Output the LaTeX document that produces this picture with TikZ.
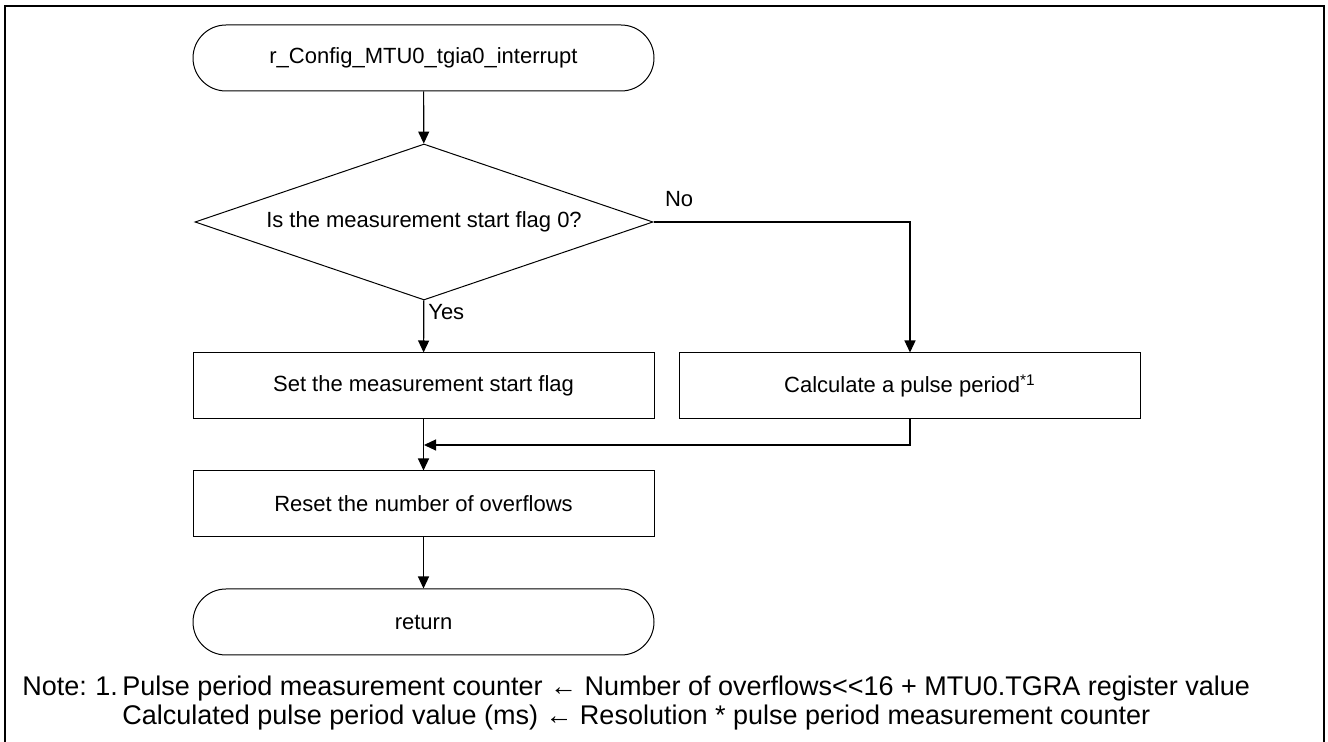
\documentclass[tikz,border=0pt]{standalone}
\usepackage{fontspec}
\setmainfont{Liberation Sans}
\usetikzlibrary{shapes.geometric,arrows.meta}

\begin{document}
\begin{tikzpicture}[x=0.5pt,y=-0.5pt,
    font=\fontsize{11}{13}\selectfont,
    >={Triangle[length=6pt,width=5.5pt]},
    proc/.style={draw,rectangle,line width=0.5pt,minimum width=230.5pt,minimum height=33pt,inner sep=0pt},
    term/.style={proc,rounded corners=16.5pt},
    flow/.style={line width=0.6pt,->},
    notetext/.style={anchor=base west,inner sep=0pt,font=\fontsize{13.5}{16}\selectfont}]
    \useasboundingbox (0,0) rectangle (1328,742);
    % outer frame, open at the bottom
    \draw[line width=1.2pt] (5,742) -- (5,6) -- (1324,6) -- (1324,742);

    \node[term] (start) at (423.5,58) {r\_Config\_MTU0\_tgia0\_interrupt};
    \node[draw,diamond,line width=0.5pt,aspect=2.9,minimum width=229pt,minimum height=78pt,inner sep=0pt] (chk) at (424,222) {Is the measurement start flag 0?};
    \node[proc] (setf) at (423.5,386) {Set the measurement start flag};
    \node[proc] (calc) at (910,386) {Calculate a pulse period\textsuperscript{*1}};
    \node[proc] (reset) at (423.5,504) {Reset the number of overflows};
    \node[term] (ret) at (423.5,622) {return};
    \coordinate (mrg) at (424,445);

    \draw[flow] (start) -- (chk);
    \draw[flow] (chk) -- node[pos=0.22,right,inner sep=2pt] (yes) {Yes} (setf);
    \draw[flow] (chk.east) -| node[pos=0.05,above=4pt] (no) {No} (calc.north);
    \draw[flow] (calc.south) |- (mrg);
    \draw[flow] (setf) -- (reset);
    \draw[flow] (reset) -- (ret);

    % note below the chart
    \node[notetext] (note) at (22,696) {Note:};
    \node[notetext] (num) at (95,696) {1.};
    \node[notetext] (nline1) at (122,696) {Pulse period measurement counter ← Number of overflows<\kern0pt<16 + MTU0.TGRA register value};
    \node[notetext] (nline2) at (122,725) {Calculated pulse period value (ms) ← Resolution * pulse period measurement counter};
\end{tikzpicture}
\end{document}
